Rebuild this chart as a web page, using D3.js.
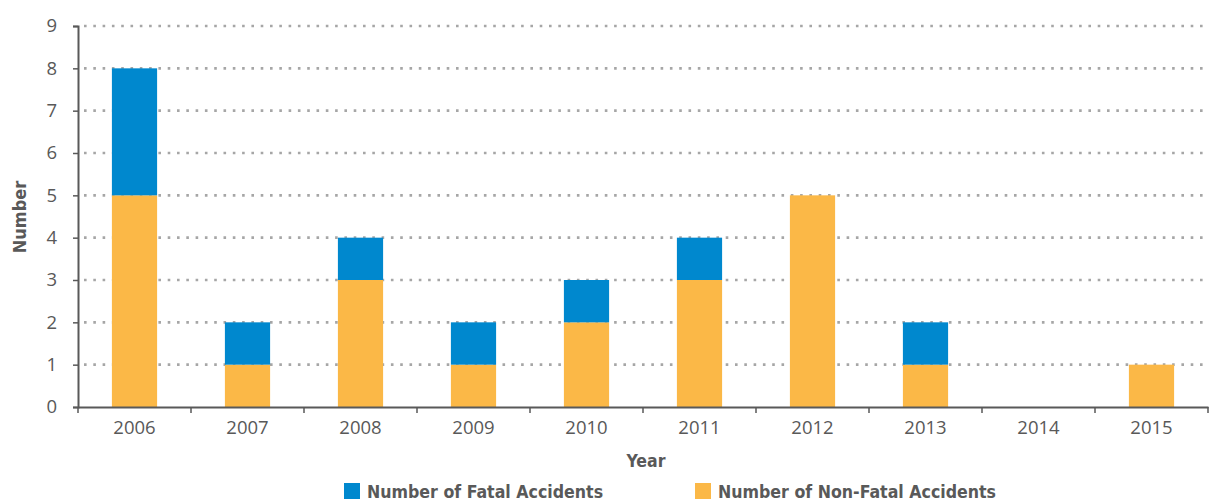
<!DOCTYPE html>
<html><head><meta charset="utf-8">
<script src="https://cdn.jsdelivr.net/npm/d3@7"></script>
<style>
body{margin:0;background:#fff;}
svg{display:block;}
</style></head>
<body>
<script>
const years = ["2006","2007","2008","2009","2010","2011","2012","2013","2014","2015"];
const fatal = [3,1,1,1,1,1,0,1,0,0];
const nonFatal = [5,1,3,1,2,3,5,1,0,1];
const yTicks = [0,1,2,3,4,5,6,7,8,9];
const seriesNames = ["Number of Fatal Accidents","Number of Non-Fatal Accidents"];
const colors = {fatal:"#0088CE", nonFatal:"#FBB847"};

const W=1209,H=500;
const m={left:78,right:1,top:26,bottom:93};
const svg=d3.select("body").append("svg").attr("width",W).attr("height",H);
const x=d3.scaleBand().domain(years).range([m.left,W-m.right]).paddingInner(0.6).paddingOuter(0.3);
const xb=d3.scaleBand().domain(years).range([m.left,W-m.right]);
const y=d3.scaleLinear().domain([0,9]).range([H-m.bottom,m.top]);

const tickFont="'Open Sans', sans-serif";
const axisColor="#595959";

// grid
svg.append("g").selectAll("line").data(yTicks.filter(d=>d>0)).join("line")
 .attr("x1",m.left+6).attr("x2",W-m.right).attr("y1",d=>y(d)).attr("y2",d=>y(d))
 .attr("stroke","#a6a6a6").attr("stroke-width",2.6).attr("stroke-dasharray","2.6 6.7");

const data = years.map((yr,i)=>({yr,f:fatal[i],n:nonFatal[i]}));
const stack=d3.stack().keys(["n","f"])(data);
svg.append("g").selectAll("g").data(stack).join("g")
 .attr("fill",d=>d.key==="n"?colors.nonFatal:colors.fatal)
 .selectAll("rect").data(d=>d).join("rect")
 .attr("x",d=>x(d.data.yr)).attr("width",x.bandwidth())
 .attr("y",d=>y(d[1])).attr("height",d=>y(d[0])-y(d[1]));

// y axis
const ya=svg.append("g").attr("transform",`translate(${m.left},0)`)
 .call(d3.axisLeft(y).tickValues(yTicks).tickSize(5).tickPadding(16));
ya.select(".domain").attr("stroke",axisColor).attr("stroke-width",2);
ya.selectAll(".tick line").attr("stroke",axisColor).attr("stroke-width",1.5);
ya.selectAll("text").attr("font-family",tickFont).attr("font-size",18.5).attr("fill",axisColor);

// x axis
const xa=svg.append("g").attr("transform",`translate(0,${y(0)})`)
 .call(d3.axisBottom(xb).tickSize(0).tickPadding(13.5));
xa.select(".domain").attr("stroke",axisColor).attr("stroke-width",2);
xa.selectAll("text").attr("font-family",tickFont).attr("font-size",18.5).attr("fill",axisColor);
svg.append("g").selectAll("line").data(years.concat(["end"])).join("line")
 .attr("x1",(d,i)=>m.left+i*xb.bandwidth()).attr("x2",(d,i)=>m.left+i*xb.bandwidth())
 .attr("y1",y(0)).attr("y2",y(0)+6).attr("stroke",axisColor).attr("stroke-width",1.5);

const titleFont="'DejaVu Sans Condensed', 'DejaVu Sans', sans-serif";
svg.append("text").attr("x",646).attr("y",467).attr("text-anchor","middle")
 .attr("font-family",titleFont).attr("font-weight","bold").attr("font-size",17.5).attr("fill",axisColor).text("Year");
svg.append("text").attr("transform",`translate(26,217) rotate(-90)`).attr("text-anchor","middle")
 .attr("font-family",titleFont).attr("font-weight","bold").attr("font-size",18).attr("fill",axisColor).text("Number");

// legend
const leg=[{name:seriesNames[0],c:colors.fatal,x:344},{name:seriesNames[1],c:colors.nonFatal,x:695}];
const lg=svg.append("g").selectAll("g").data(leg).join("g").attr("transform",d=>`translate(${d.x},483)`);
lg.append("rect").attr("width",16).attr("height",16).attr("fill",d=>d.c);
lg.append("text").attr("x",23).attr("y",14.5).attr("font-family",titleFont).attr("font-weight","bold")
 .attr("font-size",17.6).attr("fill",axisColor).text(d=>d.name);
</script>
</body></html>
